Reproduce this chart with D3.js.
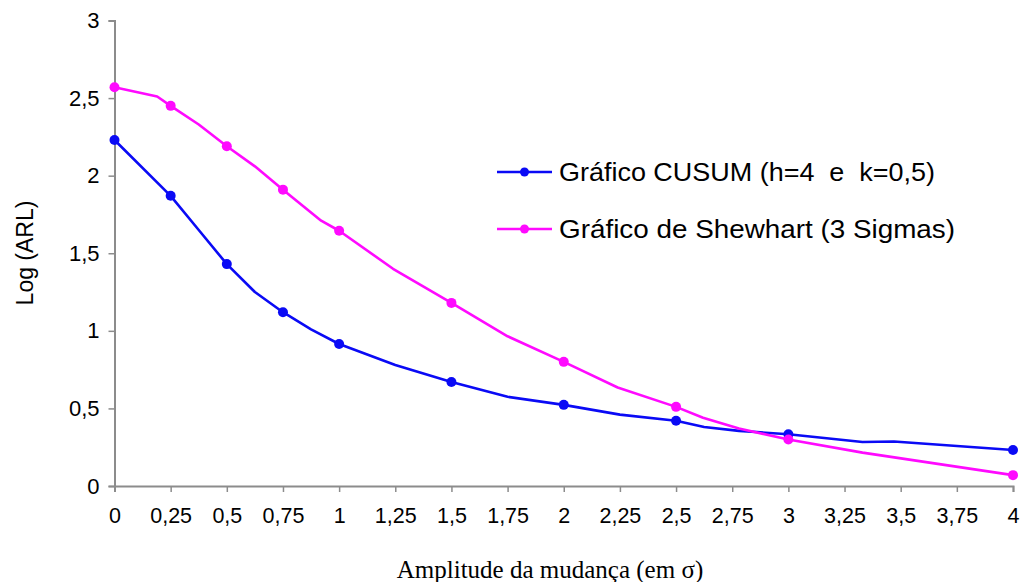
<!DOCTYPE html>
<html>
<head>
<meta charset="utf-8">
<script src="https://cdn.jsdelivr.net/npm/d3@7"></script>
<style>
html,body{margin:0;padding:0;background:#fff;}
svg{display:block;}
text{white-space:pre;}
</style>
</head>
<body>
<svg id="chart" width="1025" height="582"></svg>
<script>
// ---- data ----
const xTicks = [0,0.25,0.5,0.75,1,1.25,1.5,1.75,2,2.25,2.5,2.75,3,3.25,3.5,3.75,4];
const yTicks = [0,0.5,1,1.5,2,2.5,3];
const markerX = [0,0.25,0.5,0.75,1,1.5,2,2.5,3,4];

const cusumX = [0,0.25,0.375,0.5,0.625,0.75,0.875,1,1.25,1.5,1.75,2,2.25,2.5,2.625,2.78,3,3.33,3.47,4];
const cusumY = [2.23,1.87,1.65,1.43,1.25,1.12,1.01,0.915,0.78,0.67,0.575,0.523,0.46,0.42,0.38,0.355,0.334,0.284,0.287,0.232];

const shewX = [0,0.19,0.25,0.375,0.5,0.625,0.75,0.92,1,1.24,1.5,1.75,2,2.24,2.5,2.62,2.78,3,3.33,4];
const shewY = [2.57,2.51,2.45,2.33,2.19,2.06,1.91,1.71,1.645,1.40,1.18,0.965,0.80,0.635,0.51,0.44,0.37,0.30,0.215,0.07];

const seriesNames = ["Gráfico CUSUM (h=4  e  k=0,5)", "Gráfico de Shewhart (3 Sigmas)"];
const seriesColors = ["#0a0af5", "#ff0aff"];

// ---- chart ----
const svg = d3.select("#chart");
const x = d3.scaleLinear().domain([0,4]).range([114.5,1013]);
const y = d3.scaleLinear().domain([0,3]).range([486,20.5]);
const fmt = d => String(d).replace(".", ",");

const axisColor = "#8c8c8c";

// y axis
const gy = svg.append("g").attr("transform", `translate(${x(0)},0)`)
  .call(d3.axisLeft(y).tickValues(yTicks).tickSize(6).tickPadding(9).tickFormat(fmt));
gy.select(".domain").attr("stroke", axisColor).attr("stroke-width", 2);
gy.selectAll(".tick line").attr("stroke", axisColor).attr("stroke-width", 1.5);
gy.selectAll(".tick text").attr("font-family", "Liberation Sans, Arial, sans-serif")
  .attr("font-size", 22).attr("fill", "#000");

// x axis
const gx = svg.append("g").attr("transform", `translate(0,${y(0)})`)
  .call(d3.axisBottom(x).tickValues(xTicks).tickSize(6).tickPadding(16).tickFormat(fmt));
gx.select(".domain").attr("stroke", axisColor).attr("stroke-width", 2);
gx.selectAll(".tick line").attr("stroke", axisColor).attr("stroke-width", 1.5);
gx.selectAll(".tick text").attr("font-family", "Liberation Sans, Arial, sans-serif")
  .attr("font-size", 21.5).attr("fill", "#000");

// titles
svg.append("text")
  .attr("x", 550).attr("y", 578)
  .attr("text-anchor", "middle")
  .attr("font-family", "Liberation Serif, Times New Roman, serif")
  .attr("font-size", 25).attr("fill", "#000")
  .text("Amplitude da mudança (em σ)");

svg.append("text")
  .attr("transform", "translate(33,253) rotate(-90)")
  .attr("text-anchor", "middle")
  .attr("font-family", "Liberation Sans, Arial, sans-serif")
  .attr("font-size", 23).attr("fill", "#000")
  .text("Log (ARL)");

// lines
const line = d3.line().x(d => x(d[0])).y(d => y(d[1]));
const series = [
  d3.zip(cusumX, cusumY),
  d3.zip(shewX, shewY)
];
series.forEach((pts, i) => {
  svg.append("path").datum(pts)
    .attr("fill", "none").attr("stroke", seriesColors[i])
    .attr("stroke-width", 2.6).attr("stroke-linejoin", "round")
    .attr("d", line);
  svg.append("g").selectAll("circle")
    .data(pts.filter(p => markerX.includes(p[0])))
    .join("circle")
    .attr("cx", d => x(d[0])).attr("cy", d => y(d[1]))
    .attr("r", 5).attr("fill", seriesColors[i]);
});

// legend
const legY = [172, 229];
seriesNames.forEach((name, i) => {
  const g = svg.append("g").attr("transform", `translate(497,${legY[i]})`);
  g.append("line").attr("x1", 0).attr("x2", 55).attr("y1", 0).attr("y2", 0)
    .attr("stroke", seriesColors[i]).attr("stroke-width", 2.6);
  g.append("circle").attr("cx", 27.5).attr("cy", 0).attr("r", 4.5).attr("fill", seriesColors[i]);
  g.append("text").attr("x", 62).attr("y", 8.5)
    .attr("font-family", "Liberation Sans, Arial, sans-serif")
    .attr("font-size", 25).attr("fill", "#000")
    .attr("textLength", i === 0 ? 376 : 396)
    .attr("lengthAdjust", "spacingAndGlyphs")
    .text(name);
});
</script>
</body>
</html>
